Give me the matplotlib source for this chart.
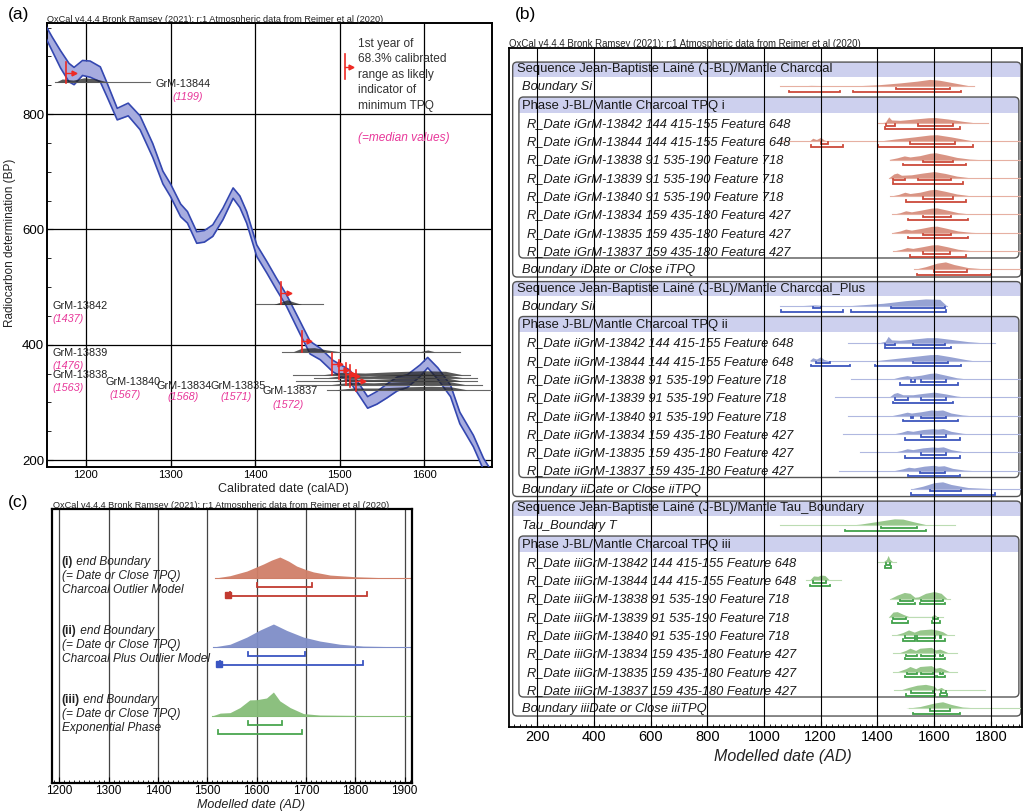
import matplotlib.pyplot as plt
from matplotlib.patches import FancyBboxPatch, Rectangle
from matplotlib.ticker import MultipleLocator

plt.rcParams['font.family'] = ['Liberation Sans', 'DejaVu Sans']

W, H = 1023, 811
HEADER = 'OxCal v4.4.4 Bronk Ramsey (2021); r:1 Atmospheric data from Reimer et al (2020)'
PINK = '#e8389a'
RED = '#ee2a24'

# ---------------- (a) calibration curve
curve_year = [1150, 1160, 1170, 1180, 1186, 1196, 1205, 1217, 1225, 1237, 1250, 1264, 1279, 1291, 1300, 1312,
              1320, 1331, 1340, 1350, 1362, 1374, 1382, 1390, 1402, 1414, 1425, 1437, 1453, 1465, 1477, 1492,
              1512, 1524, 1533, 1544, 1556, 1568, 1580, 1595, 1604, 1616, 1631, 1642, 1658, 1670, 1682]
curve_bp = [950, 922, 895, 872, 866, 880, 878, 869, 842, 800, 808, 785, 737, 690, 668, 633,
            621, 586, 588, 598, 627, 663, 648, 621, 563, 534, 506, 477, 430, 395, 384, 363,
            346, 320, 300, 308, 320, 332, 337, 355, 369, 350, 320, 273, 233, 193, 165]
curve_err = [10, 12, 15, 16, 15, 13, 14, 13, 12, 10, 11, 12, 12, 11, 11, 11,
             10, 10, 10, 10, 10, 9, 10, 10, 10, 10, 10, 10, 11, 11, 10, 10,
             10, 10, 10, 11, 12, 12, 11, 10, 9, 10, 10, 10, 10, 10, 10]

# radiocarbon samples drawn at their BP level
a_names = ['GrM-13844', 'GrM-13842', 'GrM-13839', 'GrM-13838', 'GrM-13840', 'GrM-13834', 'GrM-13835', 'GrM-13837']
a_medians = ['(1199)', '(1437)', '(1476)', '(1563)', '(1567)', '(1568)', '(1571)', '(1572)']
gray_bp = [856, 470, 388, 348, 343, 337, 331, 322]
gray_start = [1163, 1401, 1432, 1445, 1470, 1448, 1450, 1485]
gray_end = [1276, 1480, 1642, 1654, 1662, 1662, 1668, 1682]
gray_shape = [
    [(1165, 0), (1172, 5), (1185, 3), (1198, 7), (1212, 5), (1225, 0)],
    [(1422, 0), (1432, 5), (1438, 8), (1446, 4), (1455, 0)],
    [(1445, 0), (1455, 6), (1470, 7), (1485, 3), (1500, 0), (1595, 0), (1604, 3), (1612, 0)],
    [(1480, 0), (1500, 4), (1530, 3), (1560, 5), (1600, 7), (1625, 6), (1645, 0)],
    [(1485, 0), (1505, 4), (1535, 3), (1565, 5), (1600, 6), (1625, 5), (1645, 0)],
    [(1490, 0), (1510, 4), (1540, 3), (1570, 5), (1605, 6), (1628, 5), (1645, 0)],
    [(1490, 0), (1512, 4), (1540, 3), (1572, 5), (1605, 6), (1630, 5), (1648, 0)],
    [(1495, 0), (1515, 3), (1545, 3), (1575, 5), (1608, 6), (1632, 5), (1650, 0)],
]
tpq_year = [1177, 1431, 1455, 1491, 1499, 1507, 1512, 1519]
tpq_lo = [854, 470, 388, 348, 340, 331, 326, 319]
tpq_hi = [890, 508, 424, 386, 374, 369, 365, 357]

# ---------------- (b) OxCal model
samples = ['GrM-13842', 'GrM-13844', 'GrM-13838', 'GrM-13839', 'GrM-13840', 'GrM-13834', 'GrM-13835', 'GrM-13837']
contexts = ['144 415-155 Feature 648', '144 415-155 Feature 648', '91 535-190 Feature 718',
            '91 535-190 Feature 718', '91 535-190 Feature 718', '159 435-180 Feature 427',
            '159 435-180 Feature 427', '159 435-180 Feature 427']
prefixes = ['i', 'ii', 'iii']
seq_titles = ['Sequence Jean-Baptiste Lainé (J-BL)/Mantle Charcoal',
              'Sequence Jean-Baptiste Lainé (J-BL)/Mantle Charcoal_Plus',
              'Sequence Jean-Baptiste Lainé (J-BL)/Mantle Tau_Boundary']
start_labels = ['Boundary Si', 'Boundary Sii', 'Tau_Boundary T']
phase_titles = ['Phase J-BL/Mantle Charcoal TPQ i', 'Phase J-BL/Mantle Charcoal TPQ ii',
                'Phase J-BL/Mantle Charcoal TPQ iii']
end_labels = ['Boundary iDate or Close iTPQ', 'Boundary iiDate or Close iiTPQ', 'Boundary iiiDate or Close iiiTPQ']

# each group: start boundary, 8 dates, end boundary
shapes_i = [
    [(1085, 0), (1130, .06), (1165, .12), (1200, .1), (1240, .03), (1300, .04), (1400, .18), (1480, .4),
     (1540, .6), (1585, .8), (1620, .7), (1670, .4), (1720, .1), (1745, 0)],
    [(1405, 0), (1428, .1), (1440, .7), (1450, .35), (1480, .3), (1530, .45), (1580, .6), (1605, .62),
     (1650, .45), (1700, .2), (1750, 0)],
    [(1160, 0), (1172, .35), (1185, .2), (1200, .45), (1212, .15), (1228, 0), (1400, 0), (1460, .25),
     (1530, .5), (1585, .72), (1610, .75), (1660, .5), (1710, .2), (1745, 0)],
    [(1440, 0), (1470, .2), (1495, .42), (1515, .3), (1550, .45), (1585, .72), (1605, .78), (1640, .55),
     (1680, .25), (1725, .06), (1760, 0)],
    [(1440, 0), (1458, .45), (1470, .55), (1485, .3), (1520, .35), (1560, .55), (1600, .72), (1640, .5),
     (1680, .2), (1730, 0)],
    [(1445, 0), (1475, .2), (1497, .45), (1515, .3), (1550, .45), (1585, .72), (1605, .78), (1640, .55),
     (1680, .25), (1725, .06), (1760, 0)],
    [(1450, 0), (1480, .2), (1500, .42), (1520, .3), (1555, .5), (1590, .72), (1610, .75), (1645, .5),
     (1685, .2), (1730, .05), (1765, 0)],
    [(1450, 0), (1480, .2), (1500, .42), (1520, .3), (1555, .5), (1590, .72), (1610, .75), (1645, .5),
     (1685, .2), (1730, .05), (1765, 0)],
    [(1455, 0), (1485, .2), (1505, .4), (1525, .3), (1560, .5), (1592, .7), (1612, .72), (1645, .5),
     (1685, .2), (1730, .05), (1765, 0)],
    [(1530, 0), (1570, .3), (1610, .7), (1640, .85), (1670, .55), (1720, .2), (1780, .05), (1840, 0)],
]
tails_i = [(1055, 1740), (1402, 1790), (1055, 1910), (1443, 1910), (1440, 1910), (1445, 1910),
           (1450, 1910), (1450, 1910), (1455, 1910), (1530, 1910)]
r68_i = [[(1467, 1655)], [(1432, 1461), (1543, 1667)], [(1200, 1226), (1514, 1673)], [(1561, 1667)],
         [(1455, 1496), (1543, 1661)], [(1561, 1667)], [(1561, 1661)], [(1561, 1661)], [(1561, 1655)],
         [(1598, 1715)]]
r95_i = [[(1090, 1267), (1314, 1696)], [(1426, 1690)], [(1167, 1279), (1402, 1737)], [(1490, 1714)],
         [(1455, 1702)], [(1502, 1714)], [(1508, 1720)], [(1508, 1720)], [(1514, 1714)], [(1540, 1800)]]

shapes_ii = [
    [(1060, 0), (1140, .05), (1180, .12), (1220, .03), (1310, .05), (1420, .3), (1500, .6), (1570, .8),
     (1620, .75), (1645, 0)],
    [(1410, 0), (1428, .15), (1438, .7), (1450, .3), (1480, .25), (1530, .4), (1575, .55), (1610, .55),
     (1660, .35), (1720, .1), (1760, 0)],
    [(1160, 0), (1172, .35), (1185, .2), (1200, .45), (1212, .15), (1228, 0), (1390, 0), (1460, .25),
     (1530, .5), (1585, .7), (1610, .72), (1660, .45), (1710, .15), (1740, 0)],
    [(1450, 0), (1480, .25), (1505, .4), (1520, .3), (1555, .45), (1585, .65), (1605, .7), (1640, .45),
     (1680, .15), (1720, 0)],
    [(1440, 0), (1458, .45), (1470, .55), (1490, .3), (1525, .3), (1560, .45), (1600, .6), (1640, .4),
     (1680, .15), (1720, 0)],
    [(1450, 0), (1480, .2), (1505, .4), (1520, .3), (1555, .45), (1590, .65), (1610, .6), (1630, .65),
     (1660, .3), (1700, .08), (1730, 0)],
    [(1455, 0), (1485, .2), (1505, .4), (1525, .3), (1560, .5), (1595, .6), (1612, .55), (1632, .62),
     (1660, .3), (1700, .08), (1730, 0)],
    [(1455, 0), (1485, .2), (1505, .4), (1525, .3), (1560, .5), (1595, .6), (1612, .55), (1632, .62),
     (1660, .3), (1700, .08), (1730, 0)],
    [(1460, 0), (1490, .2), (1510, .38), (1530, .3), (1565, .5), (1598, .6), (1615, .5), (1635, .55),
     (1665, .25), (1705, .06), (1735, 0)],
    [(1520, 0), (1560, .3), (1600, .7), (1630, .8), (1660, .5), (1720, .15), (1800, .03), (1850, 0)],
]
tails_ii = [(1055, 1645), (1296, 1814), (1167, 1796), (1308, 1910), (1249, 1910), (1296, 1910),
            (1279, 1910), (1338, 1910), (1265, 1910), (1520, 1910)]
r68_ii = [[(1173, 1202), (1449, 1637)], [(1426, 1461), (1526, 1637)], [(1185, 1232), (1526, 1649)],
          [(1520, 1532), (1555, 1643)], [(1461, 1508), (1555, 1643)], [(1520, 1526), (1555, 1643)],
          [(1555, 1643)], [(1555, 1643)], [(1549, 1637)], [(1585, 1696)]]
r95_ii = [[(1061, 1279), (1308, 1643)], [(1426, 1661)], [(1167, 1302), (1390, 1696)], [(1479, 1685)],
          [(1455, 1667)], [(1490, 1685)], [(1496, 1690)], [(1496, 1690)], [(1508, 1690)], [(1520, 1814)]]

shapes_iii = [
    [(1290, 0), (1340, .15), (1400, .45), (1460, .75), (1490, .72), (1530, .4), (1570, .1), (1600, 0)],
    [(1420, 0), (1432, .3), (1438, .75), (1444, .3), (1455, 0)],
    [(1160, 0), (1175, .5), (1190, .45), (1200, .6), (1215, .55), (1232, 0)],
    [(1445, 0), (1470, .4), (1495, .7), (1515, .6), (1532, .15), (1545, .2), (1570, .6), (1600, .8),
     (1625, .6), (1645, 0)],
    [(1440, 0), (1455, .55), (1470, .6), (1490, .3), (1510, .05), (1590, .05), (1600, .3), (1610, .05),
     (1625, 0)],
    [(1460, 0), (1490, .3), (1510, .6), (1530, .35), (1550, .6), (1590, .7), (1615, .55), (1630, .4),
     (1650, 0)],
    [(1470, 0), (1500, .35), (1515, .6), (1535, .35), (1550, .6), (1590, .7), (1605, .4), (1620, .5),
     (1635, .3), (1655, 0)],
    [(1470, 0), (1500, .35), (1515, .6), (1535, .35), (1550, .6), (1590, .7), (1605, .4), (1620, .5),
     (1635, .3), (1655, 0)],
    [(1480, 0), (1510, .3), (1540, .55), (1570, .65), (1600, .45), (1610, .1), (1625, .3), (1640, 0)],
    [(1500, 0), (1550, .2), (1600, .6), (1630, .75), (1660, .45), (1700, .15), (1760, .03), (1800, 0)],
]
tails_iii = [(1055, 1673), (1402, 1467), (1150, 1273), (1443, 1655), (1440, 1630), (1450, 1670),
             (1455, 1680), (1455, 1680), (1460, 1780), (1510, 1910)]
r68_iii = [[(1414, 1538)], [(1432, 1443)], [(1173, 1220)], [(1479, 1526), (1555, 1632)],
           [(1455, 1502), (1596, 1614)], [(1496, 1532), (1538, 1602), (1620, 1626)],
           [(1502, 1538), (1555, 1602), (1620, 1632)], [(1505, 1538), (1555, 1596), (1620, 1632)],
           [(1520, 1596), (1626, 1643)], [(1585, 1655)]]
r95_iii = [[(1285, 1573)], [(1426, 1449)], [(1163, 1232)], [(1473, 1532), (1549, 1637)],
           [(1452, 1508), (1593, 1620)], [(1490, 1532), (1538, 1637)], [(1496, 1637)],
           [(1498, 1602), (1612, 1637)], [(1502, 1602), (1620, 1645)], [(1525, 1690)]]

group_colors = [('#d3826e', '#cc4a3a', '#e6b0a2'), ('#8593cc', '#3d56bd', '#b0b8e0'), ('#86bd78', '#41a14a', '#bcdcb3')]

# ---------------- (c) end boundaries
c_labels = ['(i)', '(ii)', '(iii)']
c_models = ['Charcoal Outlier Model', 'Charcoal Plus Outlier Model', 'Exponential Phase']
c_shapes = [
    [(1516, 0), (1546, .11), (1580, .33), (1614, .67), (1630, .85), (1647, 1.0), (1665, .8), (1681, .57),
     (1700, .4), (1715, .29), (1749, .14), (1800, .06), (1850, .02), (1915, 0)],
    [(1512, 0), (1546, .12), (1580, .43), (1607, .74), (1634, 1.0), (1661, .72), (1695, .43), (1728, .26),
     (1769, .12), (1816, .04), (1915, 0)],
    [(1509, 0), (1526, .12), (1546, .14), (1566, .35), (1586, .67), (1600, .68), (1620, .75), (1634, 1.0),
     (1647, .63), (1668, .35), (1695, .1), (1728, .04), (1915, 0)],
]
c_r68 = [(1600, 1713), (1583, 1698), (1582, 1652)]
c_r95 = [(1545, 1824), (1526, 1816), (1522, 1691)]
c_start_mark = [1541, 1524, None]


def bracket(ax, x0, x1, y, tick, color, lw):
    ax.plot([x0, x0, x1, x1], [y - tick, y, y, y - tick], color=color, lw=lw, solid_joinstyle='miter')


def fill_shape(ax, knots, base, scale, color, alpha=0.9):
    xs = [k[0] for k in knots]
    ys = [base - k[1] * scale for k in knots]
    ax.fill_between(xs, base, ys, color=color, alpha=alpha, lw=0)


fig = plt.figure(figsize=(W / 100, H / 100), dpi=100)

# ======================= panel (a)
ax = fig.add_axes([47 / W, 1 - 467 / H, 445 / W, 444 / H])
ax.set_xlim(1154, 1680)
ax.set_ylim(188, 958)
ax.fill_between(curve_year, [b - e for b, e in zip(curve_bp, curve_err)],
                [b + e for b, e in zip(curve_bp, curve_err)], color='#a7acdf', lw=0, zorder=2)
ax.plot(curve_year, [b + e for b, e in zip(curve_bp, curve_err)], color='#3447b0', lw=1.2, zorder=3)
ax.plot(curve_year, [b - e for b, e in zip(curve_bp, curve_err)], color='#3447b0', lw=1.2, zorder=3)

for bp, x0, x1, shp in zip(gray_bp, gray_start, gray_end, gray_shape):
    ax.plot([x0, x1], [bp, bp], color='#666666', lw=0.8, zorder=4)
    ax.fill_between([k[0] for k in shp], bp, [bp + k[1] for k in shp], color='#222222', alpha=0.75, lw=0, zorder=4)

for x, lo, hi in zip(tpq_year, tpq_lo, tpq_hi):
    mid = (lo + hi) / 2
    ax.plot([x, x], [lo, hi], color=RED, lw=1.2, zorder=5)
    ax.plot([x, x + 9], [mid, mid], color=RED, lw=1.0, zorder=5)
    ax.plot(x + 9, mid, marker='>', color=RED, ms=3.5, zorder=5)

name_xy = [(1282, 853), (1160, 468), (1160, 386), (1160, 347), (1223, 336), (1284, 329), (1347, 329), (1409, 320)]
med_xy = [(1302, 830), (1160, 445), (1160, 364), (1160, 325), (1228, 313), (1296, 310), (1359, 310), (1421, 296)]
for nm, md, nxy, mxy in zip(a_names, a_medians, name_xy, med_xy):
    ax.text(nxy[0], nxy[1], nm, fontsize=7.8, color='#222222', va='center', zorder=6)
    ax.text(mxy[0], mxy[1], md, fontsize=7.8, color=PINK, style='italic', va='center', zorder=6)

# legend note
ax.plot([1506, 1506], [861, 904], color=RED, lw=1.2)
ax.plot([1506, 1513], [882, 882], color=RED, lw=1.0)
ax.plot(1513, 882, marker='>', color=RED, ms=3.5)
ax.text(1522, 932, '1st year of\n68.3% calibrated\nrange as likely\nindicator of\nminimum TPQ',
        fontsize=8.6, color='#333333', va='top', linespacing=1.38)
ax.text(1522, 758, '(=median values)', fontsize=8.6, color=PINK, style='italic', va='center')

ax.set_xticks([1200, 1300, 1400, 1500, 1600])
ax.set_yticks([200, 400, 600, 800])
ax.yaxis.set_minor_locator(MultipleLocator(50))
ax.grid(True, color='black', lw=0.9)
ax.set_axisbelow(True)
ax.tick_params(axis='x', labelsize=8, pad=2, direction='in', length=4)
ax.tick_params(axis='y', labelsize=9.5, pad=2, direction='in', length=4)
ax.tick_params(which='minor', direction='in', length=3)
for s in ax.spines.values():
    s.set_linewidth(1.4)
fig.text(47 / W, 1 - 19 / H, HEADER, fontsize=6.6, color='#222222', va='center')
fig.text(10 / W, 1 - 243 / H, 'Radiocarbon determination (BP)', rotation=90, fontsize=8.5,
         ha='center', va='center', color='#222222')
fig.text(283 / W, 1 - 489 / H, 'Calibrated date (calAD)', fontsize=9, ha='center', va='center', color='#222222')
fig.text(8 / W, 1 - 15 / H, '(a)', fontsize=12.5, va='center')

# ======================= panel (b)
bx = fig.add_axes([509 / W, 1 - 727 / H, 513 / W, 679 / H])
bx.set_xlim(101, 1910)
bx.set_ylim(35.97, -1.15)
aspect = (1 / 18.29) / (1809 / 513)
groups = [(shapes_i, tails_i, r68_i, r95_i), (shapes_ii, tails_ii, r68_ii, r95_ii),
          (shapes_iii, tails_iii, r68_iii, r95_iii)]
for g, (shapes, tails, r68, r95) in enumerate(groups):
    base = 12 * g
    fill, bar, tail = group_colors[g]
    outer = FancyBboxPatch((114, base - 0.38), 1906 - 114, 11.75, boxstyle='round,pad=0,rounding_size=16',
                           mutation_aspect=aspect, fc='none', ec='#555555', lw=1.0, zorder=2)
    inner = FancyBboxPatch((136, base + 1.53), 1899 - 136, 8.8, boxstyle='round,pad=0,rounding_size=16',
                           mutation_aspect=aspect, fc='none', ec='#555555', lw=1.0, zorder=2)
    bx.add_patch(outer)
    bx.add_patch(inner)
    band1 = Rectangle((114, base - 0.38), 1906 - 114, 0.8, fc='#cdd0ee', ec='none', zorder=1)
    band2 = Rectangle((136, base + 1.53), 1899 - 136, 0.85, fc='#cdd0ee', ec='none', zorder=1)
    bx.add_patch(band1)
    bx.add_patch(band2)
    band1.set_clip_path(outer)
    band2.set_clip_path(inner)
    bx.text(129, base, seq_titles[g], fontsize=9.4, va='center', color='#1a1a1a', zorder=4)
    bx.text(147, base + 2, phase_titles[g], fontsize=9.4, va='center', color='#1a1a1a', zorder=4)
    labels = [start_labels[g]] + ['R_Date ' + prefixes[g] + s + ' ' + c for s, c in zip(samples, contexts)] \
        + [end_labels[g]]
    rows = [base + 1] + [base + 3 + k for k in range(8)] + [base + 11]
    for k, (lab, r) in enumerate(zip(labels, rows)):
        tx = 164 if 0 < k < 9 else 147
        bx.text(tx, r, lab, fontsize=9.3, style='italic', va='center', color='#1a1a1a', zorder=4)
        y0 = r - 0.05
        bx.plot(tails[k], [y0, y0], color=tail, lw=0.8, zorder=2)
        fill_shape(bx, shapes[k], y0, 0.48, fill, alpha=0.85)
        for a0, a1 in r68[k]:
            bracket(bx, a0, a1, r + 0.09, 0.08, bar, 1.3)
        for a0, a1 in r95[k]:
            bracket(bx, a0, a1, r + 0.26, 0.08, bar, 1.3)

bticks = list(range(200, 1801, 200))
bx.vlines(bticks, -1.15, 35.97, color='black', lw=0.8, zorder=6)
bx.set_xticks(bticks)
bx.set_yticks([])
bx.xaxis.set_minor_locator(MultipleLocator(20))
bx.tick_params(axis='x', labelsize=10.5, pad=2, direction='in', length=4)
bx.tick_params(which='minor', direction='in', length=2.5)
for s in bx.spines.values():
    s.set_linewidth(1.3)
fig.text(509 / W, 1 - 44 / H, HEADER, fontsize=6.9, color='#222222', va='center')
fig.text(783 / W, 1 - 757 / H, 'Modelled date (AD)', fontsize=11.5, style='italic', ha='center',
         va='center', color='#222222')
fig.text(515 / W, 1 - 15 / H, '(b)', fontsize=12.5, va='center')

# ======================= panel (c)
cx = fig.add_axes([52 / W, 1 - 783 / H, 360 / W, 274 / H])
cx.set_xlim(1185, 1915)
cx.set_ylim(274, 0)
c_fill = ['#d07f68', '#7e8dc8', '#86bd78']
c_bar = ['#c23a30', '#3a55c2', '#4aa64f']
bases = [69, 138, 207]
heights = [21, 23, 24]
for k in range(3):
    b = bases[k]
    fill_shape(cx, c_shapes[k], b, heights[k], c_fill[k], alpha=0.95)
    cx.plot([c_shapes[k][0][0], 1915], [b, b], color=c_fill[k], lw=0.8)
    bracket(cx, c_r68[k][0], c_r68[k][1], b + 9, 4, c_bar[k], 1.3)
    bracket(cx, c_r95[k][0], c_r95[k][1], b + 18, 4, c_bar[k], 1.3)
    if c_start_mark[k] is not None:
        cx.plot(c_start_mark[k], b + 17, marker='s', ms=4, color=c_bar[k])
    ty = b - 16
    t = cx.text(1205, ty, c_labels[k], fontsize=8.6, fontweight='bold', va='center', color='#222222')
    cx.annotate(' end Boundary', xy=(1, 0.5), xycoords=t, fontsize=8.6, style='italic', va='center',
                color='#222222')
    cx.text(1205, ty + 14, '(= Date or Close TPQ)', fontsize=8.6, style='italic', va='center', color='#222222')
    cx.text(1205, ty + 28, c_models[k], fontsize=8.6, style='italic', va='center', color='#222222')

cx.set_xticks(range(1200, 1901, 100))
cx.set_yticks([])
cx.xaxis.set_minor_locator(MultipleLocator(10))
cx.grid(True, axis='x', color='#444444', lw=0.9)
cx.set_axisbelow(True)
cx.tick_params(axis='x', labelsize=8.5, pad=1.5, direction='in', length=4)
cx.tick_params(which='minor', direction='in', length=2.5)
for s in cx.spines.values():
    s.set_linewidth(1.6)
fig.text(53 / W, 1 - 506 / H, HEADER, fontsize=6.6, color='#222222', va='center')
fig.text(251 / W, 1 - 805 / H, 'Modelled date (AD)', fontsize=9, style='italic', ha='center', va='center',
         color='#222222')
fig.text(8 / W, 1 - 503 / H, '(c)', fontsize=12.5, va='center')

fig.savefig('out.png', dpi=100)
